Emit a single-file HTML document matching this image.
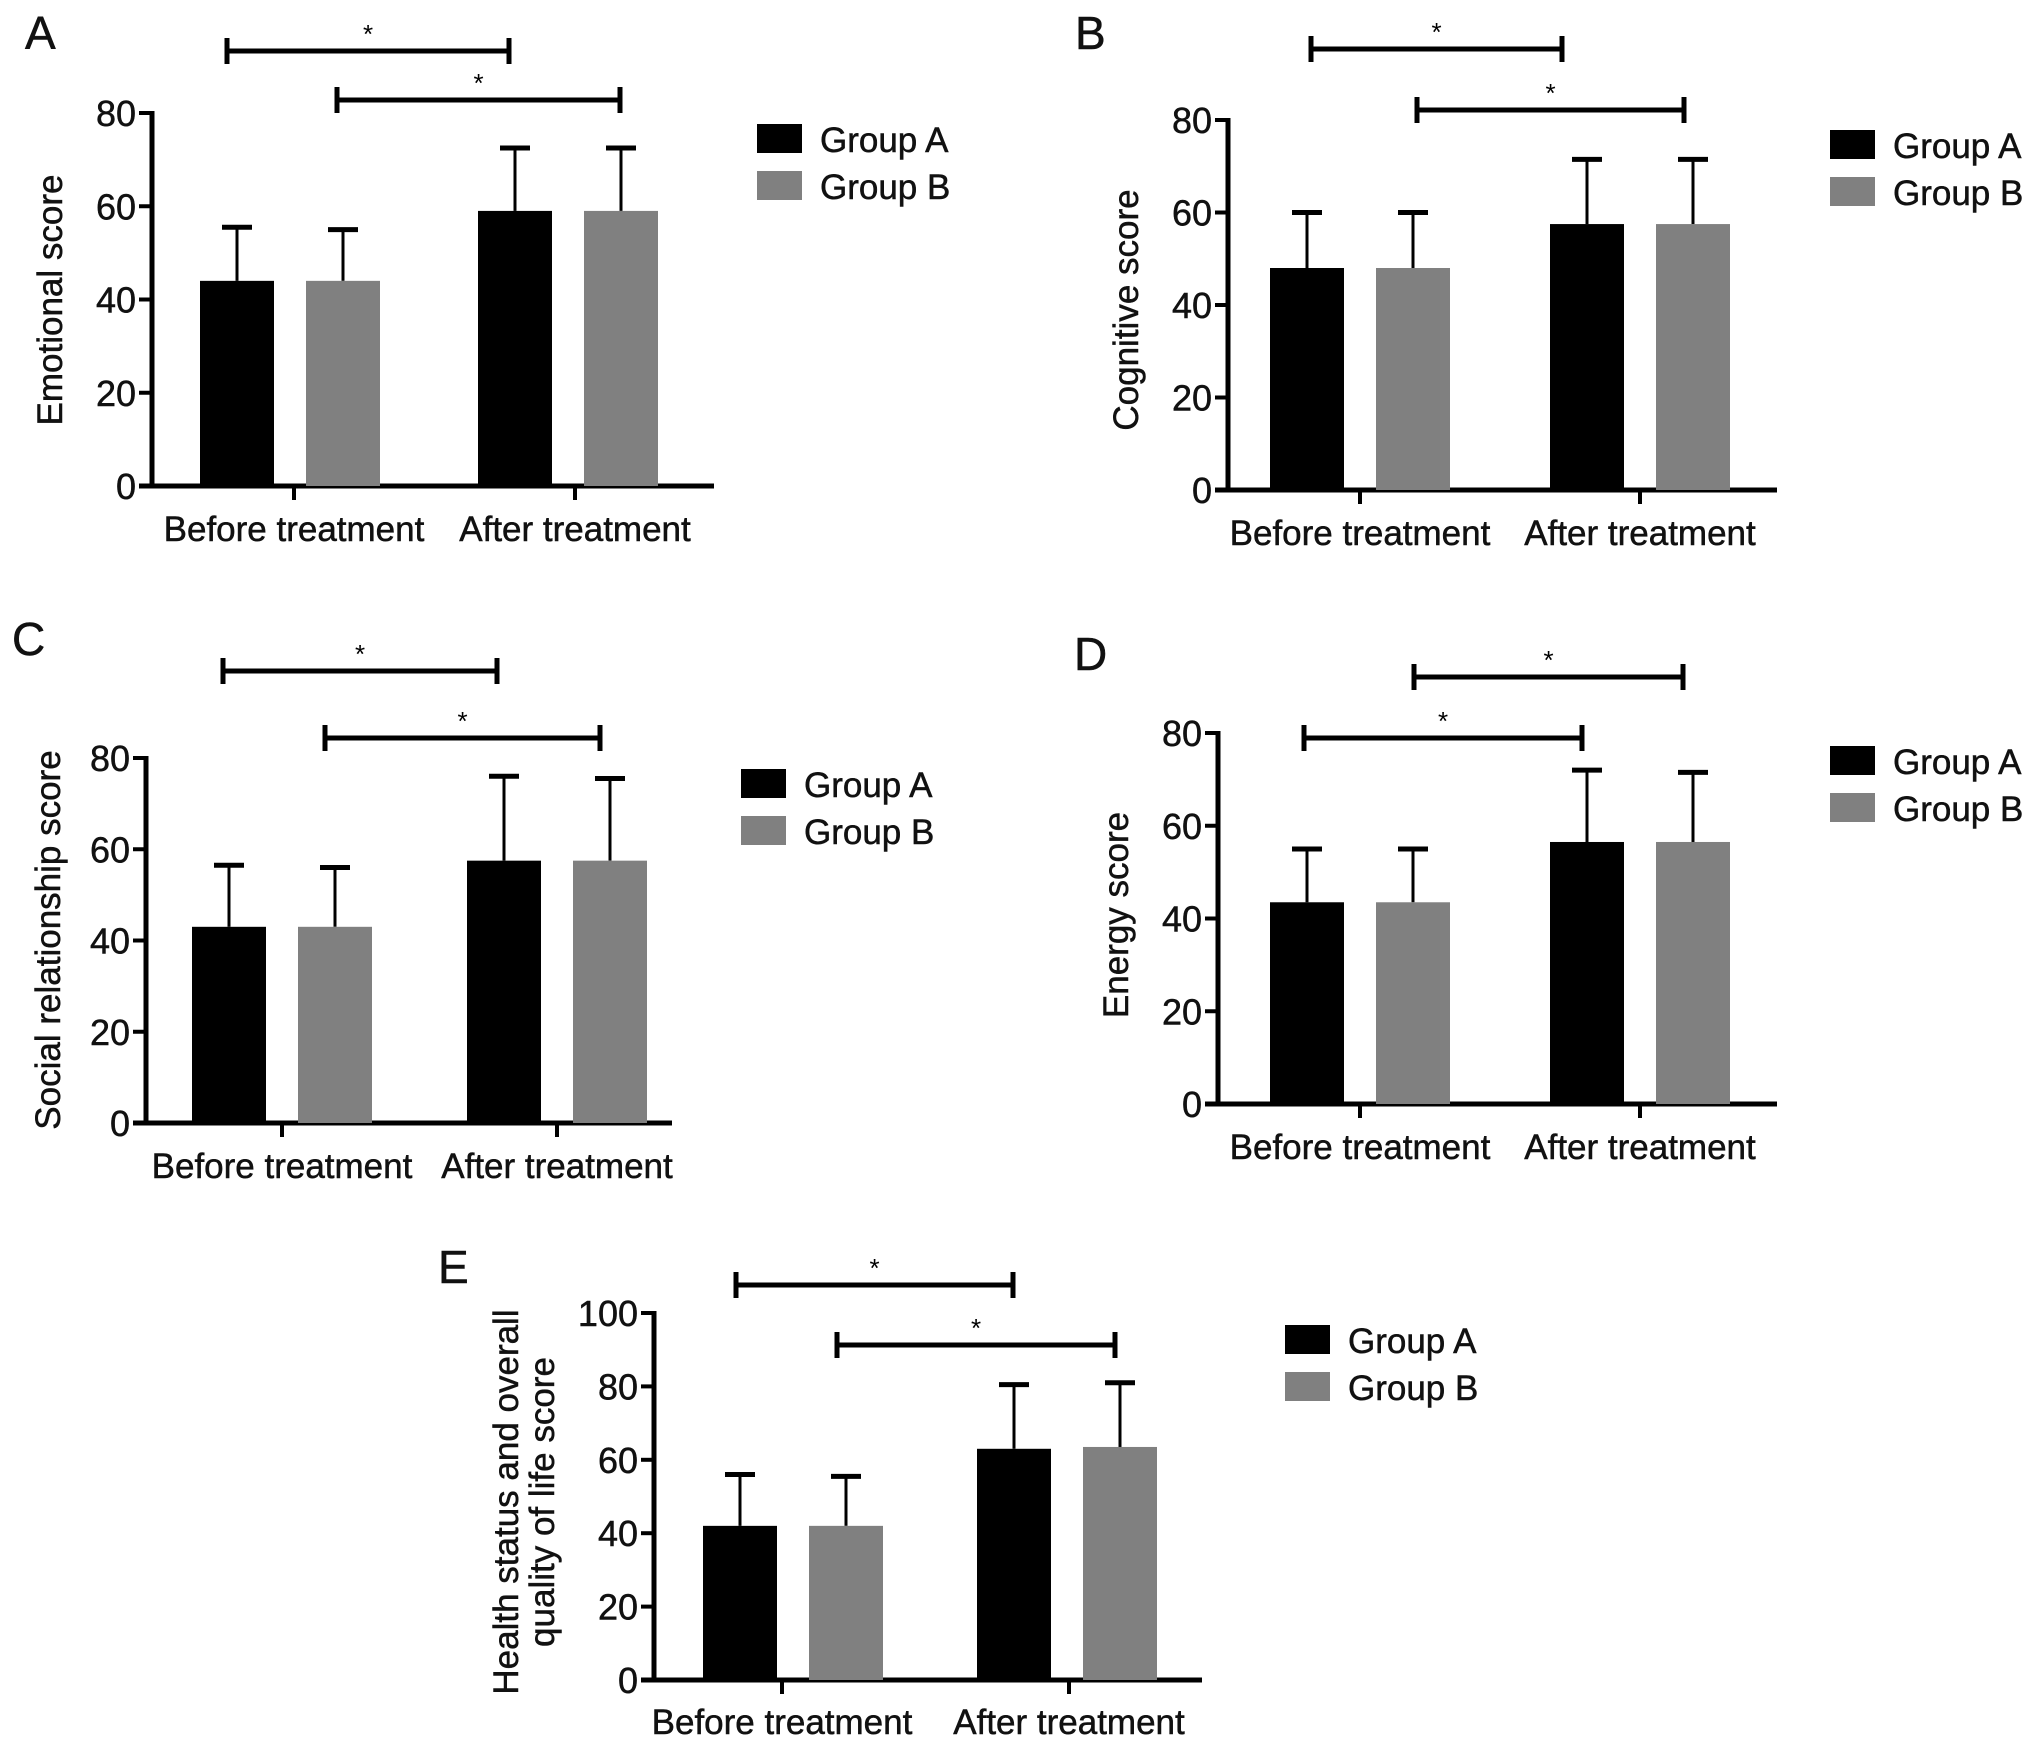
<!DOCTYPE html>
<html><head><meta charset="utf-8"><style>
html,body{margin:0;padding:0;background:#fff;}
svg{display:block;font-family:"Liberation Sans",Arial,sans-serif;}
</style></head><body>
<svg id="fig" width="2031" height="1746" viewBox="0 0 2031 1746" xmlns="http://www.w3.org/2000/svg"></svg>
<script>
const categories = ["Before treatment", "After treatment"];
const seriesNames = ["Group A", "Group B"];
const ticks80 = [0, 20, 40, 60, 80];
const ticks100 = [0, 20, 40, 60, 80, 100];
// Panel A
const aMeanA = [44, 59];  const aMeanB = [44, 59];
const aErrA = [55.5, 72.5]; const aErrB = [55, 72.5];
// Panel B
const bMeanA = [48, 57.5]; const bMeanB = [48, 57.5];
const bErrA = [60, 71.5]; const bErrB = [60, 71.5];
// Panel C
const cMeanA = [43, 57.5]; const cMeanB = [43, 57.5];
const cErrA = [56.5, 76]; const cErrB = [56, 75.5];
// Panel D
const dMeanA = [43.5, 56.5]; const dMeanB = [43.5, 56.5];
const dErrA = [55, 72]; const dErrB = [55, 71.5];
// Panel E
const eMeanA = [42, 63]; const eMeanB = [42, 63.5];
const eErrA = [56, 80.5]; const eErrB = [55.5, 81];

const NS = "http://www.w3.org/2000/svg";
const svg = document.getElementById('fig');
function mk(tag, attrs, parent, txt){
  const e = document.createElementNS(NS, tag);
  for (const k in attrs) e.setAttribute(k, attrs[k]);
  if (txt !== undefined) e.textContent = txt;
  (parent || svg).appendChild(e);
  return e;
}
const TXT = {fill:'#111', stroke:'#111', 'stroke-width':0.5};

function panel(cfg){
  const g = mk('g', {});
  
  
  const y = v => cfg.y0 - (v / cfg.max) * (cfg.y0 - cfg.yTop);
  const lbl = mk('text', Object.assign({x: cfg.lx, y: cfg.ly, 'font-size': 46}, TXT), g, cfg.id);
  
  
  const ya = mk('line', {x1: cfg.ax, y1: y(cfg.max) - 2, x2: cfg.ax, y2: cfg.y0 + 2, stroke: '#000', 'stroke-width': 5}, g);
  
  
  cfg.ticks.forEach(t => {
    const tl = mk('line', {x1: cfg.ax - 13, y1: y(t), x2: cfg.ax, y2: y(t), stroke: '#000', 'stroke-width': 4}, g);
    
    
    const tx = mk('text', Object.assign({x: cfg.ax - 16, y: y(t) + 13, 'font-size': 36, 'text-anchor': 'end'}, TXT), g, String(t));
    
    
  });
  const xa = mk('line', {x1: cfg.ax - 13, y1: cfg.y0, x2: cfg.right, y2: cfg.y0, stroke: '#000', 'stroke-width': 5}, g);
  
  
  const yt = mk('text', Object.assign({transform: `translate(${cfg.tx},${cfg.ty}) rotate(-90)`, 'font-size': 35, 'text-anchor': 'middle'}, TXT), g);
  
  
  cfg.title.forEach((line, i) => {
    mk('tspan', {x: 0, dy: i === 0 ? -(cfg.title.length - 1) * 18 : 36}, yt, line);
  });
  const series = [[cfg.mA, cfg.eA, '#000'], [cfg.mB, cfg.eB, '#808080']];
  categories.forEach((c, ci) => {
    const cx = cfg.cx[ci];
    const bc = cfg.bc ? cfg.bc[ci] : cx;
    const tk = mk('line', {x1: cx, y1: cfg.y0, x2: cx, y2: cfg.y0 + 14, stroke: '#000', 'stroke-width': 4}, g);
    
    
    const ct = mk('text', Object.assign({x: cx, y: cfg.xl, 'font-size': 35, 'text-anchor': 'middle'}, TXT), g, c);
    
    
    series.forEach((s, si) => {
      const bx = bc + (si === 0 ? -53 : 53);
      const top = y(s[0][ci]);
      const et = y(s[1][ci]);
      const el = mk('line', {x1: bx, y1: top, x2: bx, y2: et, stroke: '#000', 'stroke-width': 3}, g);
      
      
      const cp = mk('line', {x1: bx - 15, y1: et, x2: bx + 15, y2: et, stroke: '#000', 'stroke-width': 5}, g);
      
      
      const r = mk('rect', {x: bx - 37, y: top, width: 74, height: cfg.y0 - top, fill: s[2]}, g);
      
      
    });
  });
  cfg.brackets.forEach(b => {
    const bl = mk('path', {d: `M${b[0]},${b[2]-13} V${b[2]+13} M${b[0]},${b[2]} H${b[1]} M${b[1]},${b[2]-13} V${b[2]+13}`, stroke: '#000', 'stroke-width': 5, fill: 'none'}, g);
    
    
    const st = mk('text', {x: (b[0] + b[1]) / 2, y: b[2] - 8, 'font-size': 26, 'text-anchor': 'middle'}, g, '*');
    
    
  });
  const lg = mk('g', {}, g);
  
  
  seriesNames.forEach((n, i) => {
    const ly = cfg.legY + i * 47;
    const r = mk('rect', {x: cfg.legX, y: ly, width: 45, height: 29, fill: i === 0 ? '#000' : '#808080'}, lg);
    
    
    const t = mk('text', Object.assign({x: cfg.legX + 63, y: ly + 28, 'font-size': 35}, TXT), lg, n);
    
    
  });
}

panel({id:'A', lx:25, ly:49, ax:152, yTop:113, y0:486, max:80, ticks:ticks80, right:714, cx:[294,575], bc:[290,568], xl:541,
  tx:62, ty:300, title:['Emotional score'], mA:aMeanA, mB:aMeanB, eA:aErrA, eB:aErrB,
  brackets:[[227,509,51],[337,620,100]], legX:757, legY:124});
panel({id:'B', lx:1075, ly:49, ax:1228, yTop:120, y0:490, max:80, ticks:ticks80, right:1777, cx:[1360,1640], xl:545,
  tx:1138, ty:310, title:['Cognitive score'], mA:bMeanA, mB:bMeanB, eA:bErrA, eB:bErrB,
  brackets:[[1311,1562,49],[1417,1684,110]], legX:1830, legY:130});
panel({id:'C', lx:12, ly:655, ax:146, yTop:758, y0:1123, max:80, ticks:ticks80, right:672, cx:[282,557], xl:1178,
  tx:60, ty:940, title:['Social relationship score'], mA:cMeanA, mB:cMeanB, eA:cErrA, eB:cErrB,
  brackets:[[223,497,671],[325,600,738]], legX:741, legY:769});
panel({id:'D', lx:1074, ly:670, ax:1218, yTop:733, y0:1104, max:80, ticks:ticks80, right:1777, cx:[1360,1640], xl:1159,
  tx:1128, ty:915, title:['Energy score'], mA:dMeanA, mB:dMeanB, eA:dErrA, eB:dErrB,
  brackets:[[1414,1683,677],[1304,1582,738]], legX:1830, legY:746});
panel({id:'E', lx:438, ly:1283, ax:654, yTop:1313, y0:1680, max:100, ticks:ticks100, right:1202, cx:[782,1069], bc:[793,1067], xl:1734,
  tx:536, ty:1502, title:['Health status and overall','quality of life score'], mA:eMeanA, mB:eMeanB, eA:eErrA, eB:eErrB,
  brackets:[[736,1013,1285],[837,1115,1345]], legX:1285, legY:1325});
</script>
</body></html>
